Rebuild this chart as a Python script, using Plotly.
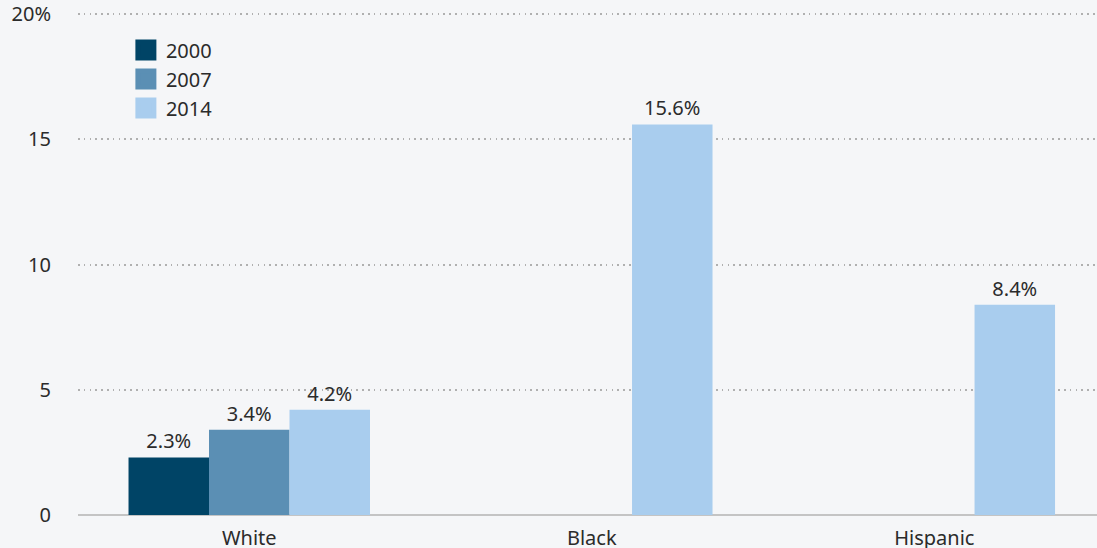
import plotly.graph_objects as go

groups = ["White", "Black", "Hispanic"]
years = ["2000", "2007", "2014"]
rate_2000 = [2.3, None, None]
rate_2007 = [3.4, None, None]
rate_2014 = [4.2, 15.6, 8.4]
y_ticks = [0, 5, 10, 15, 20]
y_tick_labels = ["0", "5", "10", "15", "20%"]

colors = ["#004466", "#5b8fb4", "#a9cdee"]
bg = "#f5f6f8"
font = "Noto Sans"

fig = go.Figure()
for year, vals, col in zip(years, [rate_2000, rate_2007, rate_2014], colors):
    fig.add_trace(go.Bar(x=groups, y=vals, name=year, marker_color=col,
                         marker_line_width=0, showlegend=False,
                         texttemplate="%{y:.1f}%", textposition="outside",
                         textfont=dict(size=20, color="#2b2b2b", family=font),
                         cliponaxis=False))
    # legend entry with a bigger square swatch
    fig.add_trace(go.Scatter(x=[None], y=[None], mode="markers", name=year,
                             marker=dict(symbol="square", size=16, color=col,
                                         line=dict(color=col, width=6))))

fig.update_layout(
    width=1097, height=548,
    margin=dict(l=78, r=0, t=13, b=33),
    paper_bgcolor=bg, plot_bgcolor=bg,
    font=dict(family=font, size=20, color="#2b2b2b"),
    barmode="group", bargap=0.295, bargroupgap=0,
    legend=dict(x=0.047, y=0.965, xanchor="left", yanchor="top",
                bgcolor="rgba(0,0,0,0)", font=dict(size=20), tracegroupgap=0),
    xaxis=dict(range=[-0.5, 2.475], showgrid=False, showline=False,
               ticks="", tickfont=dict(size=20), ticklabelstandoff=9,
               automargin=False),
    yaxis=dict(range=[0, 20.05], tickvals=y_ticks, ticktext=y_tick_labels,
               showgrid=True, gridcolor="#b0b0b0", gridwidth=1.5,
               griddash="1.5px,4.3px", zeroline=True, zerolinecolor="#c4c4c4",
               zerolinewidth=2, ticks="", ticklabelstandoff=26,
               tickfont=dict(size=20), automargin=False),
)

fig.write_html("out.html", config={"displayModeBar": False},
               post_script="document.body.style.margin='0px';")
